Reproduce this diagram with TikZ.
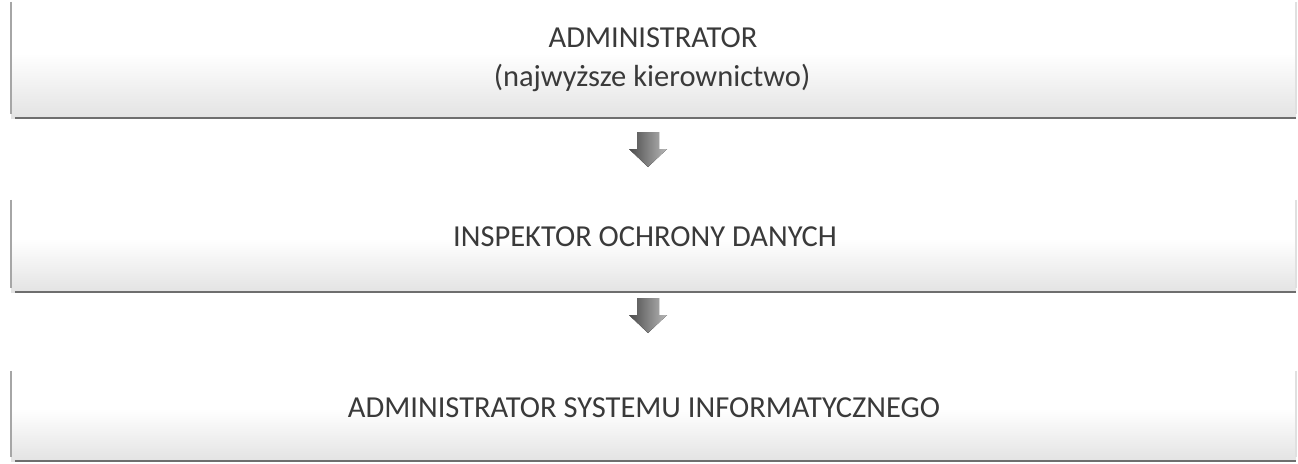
\documentclass[tikz,border=0pt]{standalone}
\usepackage{fontspec}
\setmainfont{Carlito}
\definecolor{txt}{HTML}{3A3A3A}
\definecolor{edge}{HTML}{6E6E6E}
\tikzset{
  panel/.style={rectangle, inner sep=0pt, minimum width=1285pt,
    top color=white, bottom color=black!11, middle color=white},
  paneltext/.style={font=\fontsize{30.5}{36}\selectfont, text=txt, inner sep=0pt},
  arrowfill/.style={left color=black!70, right color=black!28, draw=none},
  panelbottom/.style={draw=edge, line width=2pt},
  panelside/.style={draw=black!35, line width=2.5pt},
  panelright/.style={draw=black!12, line width=1.5pt}
}
% block arrow pointing down, from a named top point
\newcommand{\blockarrow}[1]{%
  \fill[arrowfill] ([xshift=-11pt]#1) -- ([xshift=11pt]#1)
    -- ([xshift=11pt,yshift=-17pt]#1) -- ([xshift=19pt,yshift=-17pt]#1)
    -- ([yshift=-35pt]#1) -- ([xshift=-19pt,yshift=-17pt]#1)
    -- ([xshift=-11pt,yshift=-17pt]#1) -- cycle;}
\begin{document}
\begin{tikzpicture}[x=1pt,y=-1pt]
\useasboundingbox (0,0) rectangle (1298,463);
\clip (0,0) rectangle (1298,463);
\fill[white] (0,0) rectangle (1298,463);

% three stacked panels
\node[panel, minimum height=130pt] (adm) at (653.5,53) {};
\node[panel, minimum height=106pt] (iod) at (653.5,239) {};
\node[panel, minimum height=104pt] (asi) at (653.5,409) {};

% panel texts
\node[paneltext] (t1a) at (653,38) {ADMINISTRATOR};
\node[paneltext] (t1b) at (652,78) {(najwyższe kierownictwo)};
\node[paneltext] (t2) at (645,237) {INSPEKTOR OCHRONY DANYCH};
\node[paneltext] (t3) at (644,408) {ADMINISTRATOR SYSTEMU INFORMATYCZNEGO};

% panel edges
\foreach \p in {adm,iod,asi}{
  \draw[panelside] ([yshift=-14pt]\p.north west) -- ([yshift=4pt]\p.south west);
  \draw[panelright] ([yshift=-14pt]\p.north east) -- ([yshift=4pt]\p.south east);
  \draw[panelbottom] ([xshift=4pt]\p.south west) -- (\p.south east);
}

% connecting arrows
\coordinate (a1) at (648,132);
\coordinate (a2) at (648,298);
\blockarrow{a1}
\blockarrow{a2}
\end{tikzpicture}
\end{document}
